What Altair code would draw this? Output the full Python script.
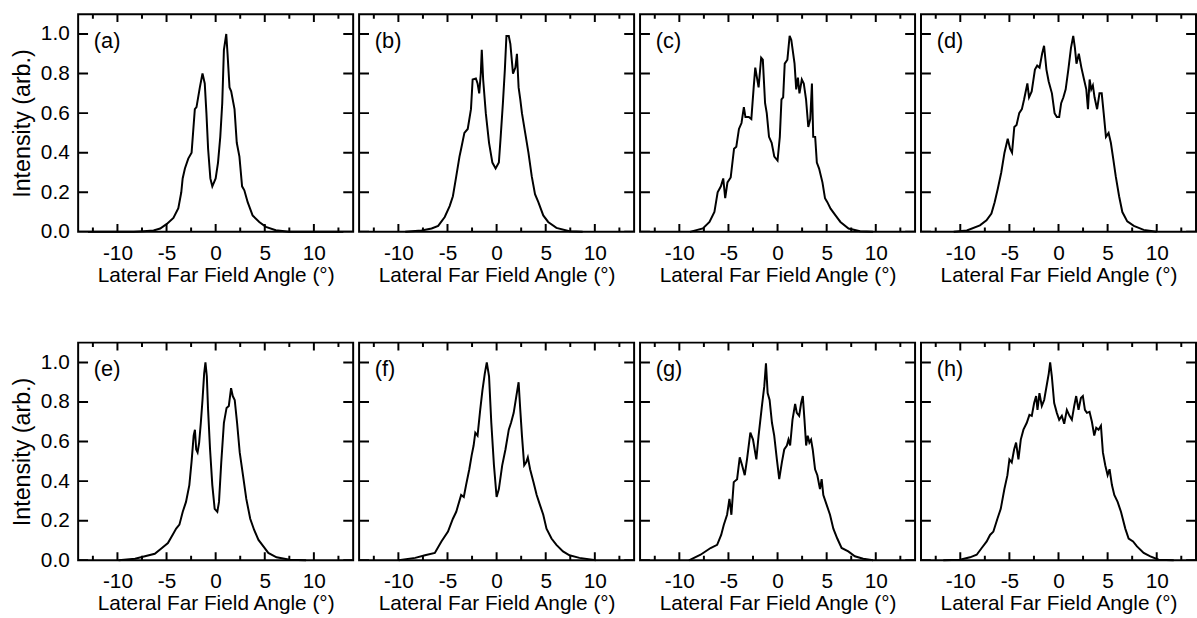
import altair as alt
import pandas as pd

FONT = "Liberation Sans"
X_TITLE = "Lateral Far Field Angle (°)"
Y_TITLE = "Intensity (arb.)"

labels = ["(a)", "(b)", "(c)", "(d)", "(e)", "(f)", "(g)", "(h)"]
x_major = [-10, -5, 0, 5, 10]
x_minor = [-12.5, -7.5, -2.5, 2.5, 7.5, 12.5]
y_ticks = [0.0, 0.2, 0.4, 0.6, 0.8, 1.0]
x_domain = [-14, 14]
y_domain = [0, 1.1]
label_pos = [-12.4, 0.965]

a_x = [-13, -10.0, -8.34, -7.33, -6.32, -5.65, -4.97, -4.30, -3.80, -3.50, -3.36, -3.13, -2.79, -2.45, -2.30, -2.12, -1.95, -1.61, -1.34, -1.11, -0.94, -0.77, -0.54, -0.34, 0, 0.24, 0.47, 0.67, 0.84, 1.08, 1.21, 1.41, 1.58, 1.92, 2.15, 2.42, 2.69, 2.92, 3.26, 3.76, 4.44, 5.11, 6.12, 7.46, 9.0, 13]
a_y = [0, 0, 0, 0.003, 0.007, 0.017, 0.04, 0.07, 0.12, 0.2, 0.27, 0.32, 0.37, 0.40, 0.5, 0.62, 0.63, 0.73, 0.80, 0.75, 0.60, 0.42, 0.27, 0.23, 0.27, 0.35, 0.48, 0.65, 0.92, 1.0, 0.9, 0.73, 0.71, 0.62, 0.45, 0.38, 0.23, 0.21, 0.15, 0.083, 0.05, 0.025, 0.008, 0.0, 0, 0]

b_x = [-9.30, -7.63, -6.62, -5.95, -5.28, -4.78, -4.45, -4.11, -3.78, -3.61, -3.28, -2.94, -2.61, -2.44, -2.11, -1.94, -1.77, -1.61, -1.51, -1.37, -1.10, -0.77, -0.43, -0.10, 0.23, 0.40, 0.64, 0.84, 1.00, 1.24, 1.40, 1.67, 1.91, 2.07, 2.24, 2.41, 2.58, 2.91, 3.24, 3.58, 3.91, 4.25, 4.75, 5.25, 6.09, 7.42, 8.76]
b_y = [0, 0.007, 0.017, 0.03, 0.075, 0.13, 0.18, 0.28, 0.38, 0.42, 0.50, 0.52, 0.62, 0.77, 0.775, 0.75, 0.70, 0.80, 0.92, 0.77, 0.60, 0.45, 0.35, 0.32, 0.35, 0.47, 0.65, 0.82, 0.99, 0.99, 0.95, 0.80, 0.83, 0.90, 0.73, 0.67, 0.60, 0.50, 0.40, 0.28, 0.19, 0.15, 0.083, 0.05, 0.02, 0.003, 0]

c_x = [-8.93, -7.60, -6.93, -6.43, -6.10, -5.77, -5.53, -5.33, -5.10, -4.77, -4.43, -4.20, -3.93, -3.67, -3.43, -3.27, -2.93, -2.67, -2.43, -2.27, -1.93, -1.67, -1.50, -1.27, -1.10, -0.87, -0.60, -0.33, 0, 0.23, 0.40, 0.57, 0.73, 1.00, 1.23, 1.40, 1.73, 1.90, 2.07, 2.23, 2.47, 2.67, 2.90, 3.13, 3.33, 3.50, 3.63, 3.83, 4.00, 4.23, 4.57, 4.83, 5.07, 5.40, 5.90, 6.40, 7.23, 8.40, 9.73]
c_y = [0, 0.017, 0.05, 0.10, 0.20, 0.23, 0.27, 0.17, 0.25, 0.275, 0.42, 0.43, 0.52, 0.55, 0.63, 0.58, 0.58, 0.57, 0.73, 0.83, 0.73, 0.88, 0.87, 0.65, 0.60, 0.48, 0.45, 0.38, 0.36, 0.48, 0.67, 0.68, 0.85, 0.87, 0.99, 0.97, 0.85, 0.72, 0.78, 0.70, 0.77, 0.75, 0.67, 0.53, 0.57, 0.75, 0.48, 0.48, 0.35, 0.32, 0.25, 0.17, 0.15, 0.117, 0.083, 0.05, 0.017, 0.003, 0]

d_x = [-10.67, -9.33, -8.00, -7.33, -6.83, -6.50, -6.17, -5.83, -5.50, -5.17, -4.93, -4.73, -4.50, -4.27, -4.00, -3.73, -3.50, -3.17, -3.00, -2.73, -2.40, -2.17, -1.93, -1.67, -1.47, -1.23, -1.00, -0.67, -0.40, -0.17, 0.07, 0.27, 0.50, 0.73, 1.00, 1.27, 1.50, 1.67, 1.83, 2.07, 2.33, 2.60, 2.83, 3.00, 3.17, 3.33, 3.50, 3.67, 3.93, 4.17, 4.40, 4.60, 4.83, 5.10, 5.33, 5.57, 5.83, 6.17, 6.50, 7.00, 7.67, 8.67, 10.00]
d_y = [0, 0.007, 0.033, 0.058, 0.092, 0.15, 0.22, 0.30, 0.40, 0.47, 0.42, 0.40, 0.53, 0.54, 0.60, 0.62, 0.67, 0.75, 0.68, 0.71, 0.82, 0.84, 0.83, 0.90, 0.94, 0.82, 0.76, 0.70, 0.60, 0.58, 0.58, 0.65, 0.68, 0.72, 0.82, 0.93, 0.99, 0.93, 0.85, 0.90, 0.83, 0.77, 0.72, 0.62, 0.77, 0.72, 0.74, 0.68, 0.62, 0.70, 0.70, 0.60, 0.48, 0.50, 0.45, 0.37, 0.28, 0.18, 0.10, 0.053, 0.03, 0.01, 0]

e_x = [-9.88, -8.21, -7.20, -6.20, -5.53, -4.86, -4.36, -4.02, -3.69, -3.35, -3.02, -2.68, -2.45, -2.24, -2.11, -1.98, -1.84, -1.68, -1.51, -1.34, -1.17, -1.04, -0.90, -0.77, -0.57, -0.34, -0.10, 0.17, 0.34, 0.57, 0.84, 1.11, 1.34, 1.57, 1.74, 1.94, 2.18, 2.45, 2.78, 3.12, 3.52, 3.92, 4.36, 4.86, 5.36, 6.20, 7.54, 9.21]
e_y = [0, 0.008, 0.02, 0.033, 0.06, 0.087, 0.13, 0.16, 0.18, 0.245, 0.295, 0.38, 0.50, 0.63, 0.66, 0.56, 0.545, 0.595, 0.695, 0.81, 0.945, 1.0, 0.93, 0.76, 0.56, 0.38, 0.26, 0.245, 0.295, 0.495, 0.695, 0.77, 0.78, 0.87, 0.83, 0.81, 0.695, 0.545, 0.43, 0.31, 0.21, 0.153, 0.103, 0.07, 0.037, 0.015, 0.003, 0]

f_x = [-9.97, -8.29, -7.29, -6.29, -5.62, -4.95, -4.45, -4.11, -3.61, -3.34, -3.11, -2.78, -2.54, -2.34, -2.17, -1.94, -1.67, -1.44, -1.20, -1.00, -0.77, -0.54, -0.27, 0, 0.23, 0.57, 0.90, 1.24, 1.47, 1.74, 2.01, 2.24, 2.41, 2.58, 2.81, 3.01, 3.18, 3.41, 3.75, 4.08, 4.41, 4.75, 5.08, 5.59, 6.09, 6.76, 7.42, 8.43, 10.10]
f_y = [0, 0.012, 0.025, 0.037, 0.095, 0.145, 0.21, 0.245, 0.33, 0.32, 0.38, 0.46, 0.53, 0.58, 0.645, 0.63, 0.76, 0.86, 0.945, 1.0, 0.93, 0.695, 0.48, 0.32, 0.36, 0.48, 0.56, 0.66, 0.695, 0.745, 0.83, 0.90, 0.76, 0.63, 0.48, 0.495, 0.52, 0.46, 0.395, 0.33, 0.28, 0.23, 0.16, 0.11, 0.078, 0.045, 0.025, 0.012, 0]

g_x = [-9.02, -7.84, -6.82, -6.15, -5.74, -5.47, -5.14, -4.90, -4.70, -4.46, -4.12, -3.85, -3.61, -3.34, -3.11, -2.77, -2.50, -2.16, -1.93, -1.59, -1.35, -1.18, -1.01, -0.81, -0.57, -0.34, -0.07, 0.17, 0.44, 0.68, 0.95, 1.11, 1.28, 1.52, 1.79, 1.96, 2.20, 2.40, 2.57, 2.74, 2.91, 3.07, 3.24, 3.41, 3.58, 3.82, 4.05, 4.32, 4.49, 4.66, 5.00, 5.34, 5.68, 6.08, 6.52, 7.20, 7.87, 8.72, 9.73]
g_y = [0, 0.028, 0.062, 0.078, 0.128, 0.18, 0.23, 0.31, 0.23, 0.395, 0.41, 0.52, 0.48, 0.43, 0.51, 0.645, 0.61, 0.51, 0.63, 0.78, 0.88, 0.995, 0.845, 0.81, 0.695, 0.63, 0.51, 0.41, 0.495, 0.56, 0.58, 0.61, 0.58, 0.71, 0.79, 0.745, 0.73, 0.795, 0.83, 0.71, 0.58, 0.63, 0.595, 0.61, 0.56, 0.46, 0.43, 0.36, 0.41, 0.33, 0.28, 0.23, 0.16, 0.11, 0.062, 0.045, 0.02, 0.008, 0]

h_x = [-11.73, -10.03, -9.01, -8.33, -7.82, -7.31, -6.97, -6.63, -6.22, -5.88, -5.51, -5.20, -5.00, -4.76, -4.52, -4.32, -4.08, -3.84, -3.57, -3.23, -2.96, -2.72, -2.48, -2.28, -2.14, -1.94, -1.70, -1.46, -1.19, -0.99, -0.85, -0.68, -0.44, -0.17, 0.07, 0.34, 0.58, 0.85, 1.12, 1.36, 1.60, 1.80, 2.04, 2.28, 2.48, 2.69, 2.89, 3.16, 3.40, 3.64, 3.84, 4.08, 4.32, 4.52, 4.76, 5.00, 5.20, 5.44, 5.68, 6.02, 6.36, 6.80, 7.14, 7.59, 7.99, 8.67, 9.35, 10.20, 11.73]
h_y = [0, 0.003, 0.015, 0.028, 0.062, 0.095, 0.128, 0.145, 0.21, 0.26, 0.36, 0.43, 0.51, 0.495, 0.56, 0.595, 0.51, 0.61, 0.66, 0.695, 0.735, 0.73, 0.795, 0.83, 0.76, 0.845, 0.78, 0.81, 0.887, 0.945, 1.0, 0.93, 0.795, 0.745, 0.71, 0.73, 0.69, 0.76, 0.73, 0.71, 0.78, 0.83, 0.76, 0.82, 0.83, 0.76, 0.745, 0.75, 0.70, 0.63, 0.67, 0.66, 0.68, 0.545, 0.48, 0.43, 0.46, 0.38, 0.33, 0.295, 0.245, 0.16, 0.11, 0.095, 0.07, 0.037, 0.02, 0.003, 0]

series = [(a_x, a_y), (b_x, b_y), (c_x, c_y), (d_x, d_y),
          (e_x, e_y), (f_x, f_y), (g_x, g_y), (h_x, h_y)]

PW, PH = 278, 220
FS = 21

xs = alt.Scale(domain=x_domain, nice=False, zero=False)
ys = alt.Scale(domain=y_domain, nice=False, zero=False)

# tick tables (values placed on the frame edges, via the scales)
xt_major = pd.DataFrame([{"x": v, "y": e} for v in x_major for e in y_domain])
xt_minor = pd.DataFrame([{"x": v, "y": e} for v in x_minor for e in y_domain])
yt = pd.DataFrame([{"x": e, "y": v} for v in y_ticks for e in x_domain])

axis_common = dict(domain=False, grid=False, ticks=False, tickSize=0,
                   labelFont=FONT, labelFontSize=FS, labelColor="black",
                   titleFont=FONT, titleColor="black", titleFontWeight="normal")


def make_panel(i, lab, xv, yv):
    assert len(xv) == len(yv)
    df = pd.DataFrame({"x": xv, "y": yv})
    first = (i % 4 == 0)

    ax_bottom = alt.Axis(orient="bottom", values=x_major, labelPadding=11,
                         title=X_TITLE, titlePadding=1, titleFontSize=FS,
                         labelExpr="datum.value < 0 ? '-' + (-datum.value) : '' + datum.value",
                         **axis_common)
    if first:
        y_enc = alt.Y("y:Q", scale=ys,
                      axis=alt.Axis(orient="left", values=y_ticks, format=".1f",
                                    labelPadding=9, title=Y_TITLE, titlePadding=6,
                                    titleFontSize=23.5, **axis_common))
    else:
        y_enc = alt.Y("y:Q", scale=ys, axis=None)

    line = alt.Chart(df).mark_line(color="black", strokeWidth=2).encode(
        x=alt.X("x:Q", scale=xs, axis=ax_bottom),
        y=y_enc,
    )
    tmaj = alt.Chart(xt_major).mark_tick(orient="vertical", size=16, thickness=2,
                                          color="black", opacity=1, clip=True).encode(
        x=alt.X("x:Q", scale=xs), y=alt.Y("y:Q", scale=ys))
    tmin = alt.Chart(xt_minor).mark_tick(orient="vertical", size=9, thickness=2,
                                          color="black", opacity=1, clip=True).encode(
        x=alt.X("x:Q", scale=xs), y=alt.Y("y:Q", scale=ys))
    tyy = alt.Chart(yt).mark_tick(orient="horizontal", size=20, thickness=2,
                                   color="black", opacity=1, clip=True).encode(
        x=alt.X("x:Q", scale=xs), y=alt.Y("y:Q", scale=ys))
    ldf = pd.DataFrame({"x": [label_pos[0]], "y": [label_pos[1]], "t": [lab]})
    text = alt.Chart(ldf).mark_text(align="left", baseline="middle", font=FONT,
                                    fontSize=22, color="black").encode(
        x=alt.X("x:Q", scale=xs), y=alt.Y("y:Q", scale=ys), text="t:N")
    return alt.layer(line, tmaj, tmin, tyy, text).properties(width=PW, height=PH)


panels = [make_panel(i, labels[i], s[0], s[1]) for i, s in enumerate(series)]

chart = alt.concat(*panels, columns=4, spacing={"row": 112, "column": 6},
                   bounds="flush").properties(
    padding={"left": 9, "top": 10, "right": 0, "bottom": 0},
    background="white",
).configure_view(stroke="black", strokeWidth=2)

chart.save("out.html", embed_options={"renderer": "svg", "actions": False})
